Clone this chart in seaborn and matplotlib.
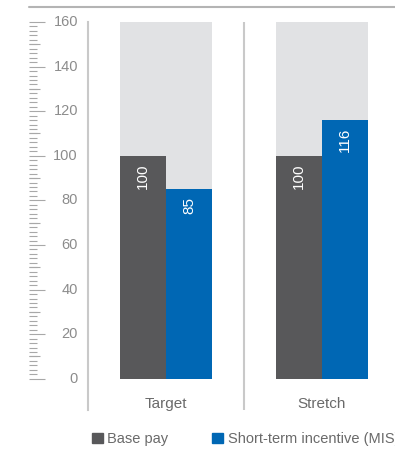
import matplotlib
matplotlib.use("Agg")
import matplotlib.pyplot as plt
import matplotlib.transforms as mtransforms
from matplotlib.lines import Line2D
from matplotlib.patches import Patch
import pandas as pd
import seaborn as sns

# chart data
scenarios = ["Target", "Stretch"]
series = ["Base pay", "Short-term incentive (MIS)"]
base_pay = [100, 100]
short_term = [85, 116]
scale_max = [160, 160]
y_ticks = list(range(0, 161, 20))

colors = {"Base pay": "#58585a", "Short-term incentive (MIS)": "#0067b4"}
bg_color = "#e1e2e4"
text_gray = "#8c8c8c"
rule_gray = "#a8a8a8"

sns.set_style("white")
plt.rcParams["font.family"] = ["Liberation Sans", "DejaVu Sans"]

df = pd.DataFrame({
    "scenario": scenarios * 2,
    "series": [series[0]] * 2 + [series[1]] * 2,
    "value": base_pay + short_term,
})

fig = plt.figure(figsize=(3.95, 4.5), dpi=100)
W, H = 395, 450
ax = fig.add_axes([88 / W, 1 - 410 / H, 1 - 88 / W, (410 - 22) / H])

# grey background columns up to the scale maximum
sns.barplot(x=scenarios, y=scale_max, color=bg_color, width=0.59, ax=ax,
            saturation=1, linewidth=0)
sns.barplot(data=df, x="scenario", y="value", hue="series", palette=colors,
            width=0.59, saturation=1, legend=False, linewidth=0, ax=ax)

ax.set_ylim(-14, 160)
ax.set_xlim(-0.5, 1.468)
ax.set_xlabel("")
ax.set_ylabel("")
ax.set_yticks([])
ax.set_xticks([])
for side in ["top", "right", "bottom"]:
    ax.spines[side].set_visible(False)
ax.spines["left"].set_color("#c9c9c9")
ax.spines["left"].set_linewidth(1.5)
ax.axvline(0.5, color="#c9c9c9", lw=1.5)

# value labels inside bars
for cont in ax.containers[1:]:
    for bar, val in zip(cont, cont.datavalues):
        ax.annotate(f"{val:.0f}", (bar.get_x() + bar.get_width() / 2, bar.get_height()),
                    xytext=(0, -5.5), textcoords="offset points", rotation=90,
                    ha="center", va="top", color="white", fontsize=11)

# category labels
for i, name in enumerate(scenarios):
    ax.text(i, -13, name, ha="center", va="baseline",
            fontsize=11, color="#6a6a6a")

# ruler axis on the left
rax = fig.add_axes([29 / W, 1 - 410 / H, 50 / W, (410 - 22) / H])
for side in rax.spines.values():
    side.set_visible(False)
rax.set_xticks([])
rax.set_yticks(y_ticks)
rax.set_yticks(list(range(0, 161, 2)), minor=True)
rax.set_yticklabels([])
rax.set_ylim(-14, 160)
rax.set_xlim(0, 1)
rax.tick_params(axis="y", which="major", left=True, direction="in", length=11.5,
                width=0.8, color=rule_gray, labelleft=False)
rax.tick_params(axis="y", which="minor", left=True, direction="in", length=6,
                width=0.8, color=rule_gray)
rax.hlines(list(range(10, 160, 20)), 0, 11 / 50, color=rule_gray, lw=0.8)
rtrans = mtransforms.blended_transform_factory(rax.transAxes, rax.transData)
for v in y_ticks:
    rax.text(49 / 50, v, str(v), transform=rtrans, ha="right", va="center",
             fontsize=10.5, color=text_gray)

# top rule
fig.add_artist(Line2D([29 / W, 1], [1 - 7 / H, 1 - 7 / H], color="#b4b4b4", lw=1.5))

handles = [Patch(color=colors[s], label=s) for s in series]
fig.legend(handles=handles, loc="center left", bbox_to_anchor=(79 / W, 1 - 439 / H),
           ncol=2, frameon=False, fontsize=10.5, handlelength=0.75, handleheight=0.75,
           handletextpad=0.3, columnspacing=3.0, labelcolor="#6a6a6a")

fig.savefig("out.png", dpi=100)
